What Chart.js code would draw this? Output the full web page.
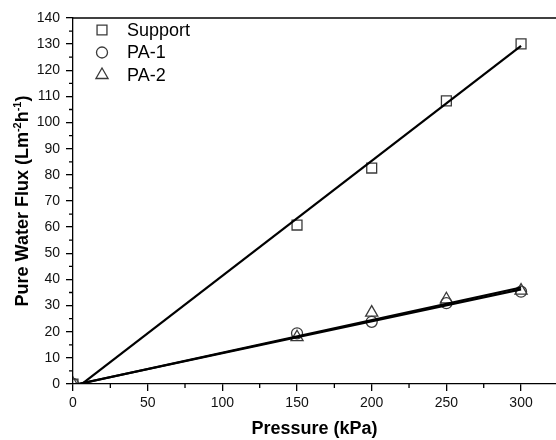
<!DOCTYPE html>
<html>
<head>
<meta charset="utf-8">
<script src="https://cdn.jsdelivr.net/npm/chart.js@4/dist/chart.umd.min.js"></script>
<style>
  html, body { margin: 0; padding: 0; background: #fff; overflow: hidden; }
  #wrap { width: 556px; height: 440px; }
</style>
</head>
<body>
<div id="wrap"><canvas id="fluxChart"></canvas></div>
<script>
// measured pure water flux vs. transmembrane pressure
const pressure = [0, 150, 200, 250, 300];
const supportFlux = [0, 60.8, 82.6, 108.3, 130.1];
const pa1Flux = [0, 19.4, 23.8, 30.9, 35.3];
const pa2Flux = [0, 17.9, 27.3, 32.4, 35.7];

// linear fit end points
const fitPressure = [0, 300];
const supportFit = [-2.6, 129.3];
const pa1Fit = [-0.4, 36.2];
const pa2Fit = [-0.5, 36.9];

const xTicks = [0, 50, 100, 150, 200, 250, 300];
const yTicks = [0, 10, 20, 30, 40, 50, 60, 70, 80, 90, 100, 110, 120, 130, 140];

const FONT = '"Liberation Sans", Arial, sans-serif';
const MARK = '#3a3a3a';

const toPoints = (xs, ys) => xs.map((x, i) => ({ x: x, y: ys[i] }));

function markers(label, ys, style, radius) {
    return {
        type: 'scatter',
        label: label,
        data: toPoints(pressure, ys),
        pointStyle: style,
        pointRadius: radius,
        pointHoverRadius: radius,
        pointBorderWidth: 1.3,
        borderColor: MARK,
        backgroundColor: 'rgba(0,0,0,0)',
        showLine: false,
        clip: 0,
        isMarker: true,
    };
}

function fitLine(ys) {
    return {
        type: 'line',
        data: toPoints(fitPressure, ys),
        borderColor: '#000',
        borderWidth: 2.2,
        pointRadius: 0,
        showLine: true,
        fill: false,
        clip: 0,
    };
}

// hollow marker shapes for the legend
function drawMarker(ctx, style, r, x, y) {
    ctx.beginPath();
    if (style === 'rect') {
        const s = r * Math.SQRT1_2;
        ctx.rect(x - s, y - s, 2 * s, 2 * s);
    } else if (style === 'circle') {
        ctx.arc(x, y, r, 0, Math.PI * 2);
    } else {
        ctx.moveTo(x, y - r);
        ctx.lineTo(x + r * Math.sin(Math.PI * 2 / 3), y + r / 2);
        ctx.lineTo(x - r * Math.sin(Math.PI * 2 / 3), y + r / 2);
        ctx.closePath();
    }
    ctx.stroke();
}

const framePlugin = {
    id: 'frame',
    afterDraw(chart) {
        const ctx = chart.ctx;
        const area = chart.chartArea;
        const xs = chart.scales.x;
        const ys = chart.scales.y;
        ctx.save();
        ctx.strokeStyle = '#000';
        ctx.lineWidth = 1.3;

        // top edge of the box
        ctx.beginPath();
        ctx.moveTo(area.left, area.top);
        ctx.lineTo(area.right, area.top);
        ctx.stroke();

        // minor ticks
        ctx.beginPath();
        for (let v = 25; v < 325; v += 50) {
            const px = xs.getPixelForValue(v);
            ctx.moveTo(px, area.bottom);
            ctx.lineTo(px, area.bottom + 4);
        }
        for (let v = 5; v < 140; v += 10) {
            const py = ys.getPixelForValue(v);
            ctx.moveTo(area.left, py);
            ctx.lineTo(area.left - 4, py);
        }
        ctx.stroke();

        // legend in the upper left corner
        ctx.font = '18px ' + FONT;
        ctx.textBaseline = 'middle';
        ctx.fillStyle = '#000';
        let rowY = area.top + 12;
        chart.data.datasets.filter(d => d.isMarker).forEach(d => {
            ctx.strokeStyle = MARK;
            ctx.lineWidth = 1.3;
            drawMarker(ctx, d.pointStyle, d.pointRadius, 102, rowY);
            ctx.fillText(d.label, 127, rowY + 1);
            rowY += 22.5;
        });

        // y axis title with superscripts
        ctx.translate(22, (area.top + area.bottom) / 2);
        ctx.rotate(-Math.PI / 2);
        const parts = [
            ['Pure Water Flux (Lm', 18, 0],
            ['-2', 11, -7],
            ['h', 18, 0],
            ['-1', 11, -7],
            [')', 18, 0],
        ];
        let total = 0;
        parts.forEach(p => {
            ctx.font = 'bold ' + p[1] + 'px ' + FONT;
            total += ctx.measureText(p[0]).width;
        });
        let cx = -total / 2;
        ctx.textBaseline = 'alphabetic';
        parts.forEach(p => {
            ctx.font = 'bold ' + p[1] + 'px ' + FONT;
            ctx.fillText(p[0], cx, 6 + p[2]);
            cx += ctx.measureText(p[0]).width;
        });
        ctx.restore();
    }
};

const axisFont = { family: FONT, size: 14 };

new Chart(document.getElementById('fluxChart'), {
    type: 'scatter',
    data: {
        datasets: [
            fitLine(supportFit),
            fitLine(pa1Fit),
            fitLine(pa2Fit),
            markers('Support', supportFlux, 'rect', 7),
            markers('PA-1', pa1Flux, 'circle', 5.5),
            markers('PA-2', pa2Flux, 'triangle', 7),
        ],
    },
    options: {
        responsive: true,
        maintainAspectRatio: false,
        animation: false,
        events: [],
        layout: { autoPadding: false, padding: { top: 18, right: 0, left: 0, bottom: 0 } },
        plugins: {
            legend: { display: false },
            tooltip: { enabled: false },
        },
        scales: {
            x: {
                type: 'linear',
                min: 0,
                max: 323.4,
                afterBuildTicks: s => { s.ticks = xTicks.map(v => ({ value: v })); },
                afterFit: s => {
                    s.height = 56;
                    s.paddingLeft = 0;
                    s.paddingRight = 0;
                },
                ticks: { font: axisFont, color: '#111', padding: 4, maxRotation: 0 },
                grid: { drawOnChartArea: false, tickLength: 7, tickColor: '#000', lineWidth: 1.3 },
                border: { color: '#000', width: 1.3 },
                title: {
                    display: true,
                    text: 'Pressure (kPa)',
                    font: { family: FONT, size: 18, weight: 'bold' },
                    color: '#000',
                    padding: { top: 6, bottom: 0 },
                },
            },
            y: {
                type: 'linear',
                min: 0,
                max: 140,
                afterBuildTicks: s => { s.ticks = yTicks.map(v => ({ value: v })); },
                afterFit: s => {
                    s.width = 73;
                    s.paddingTop = 0;
                    s.paddingBottom = 0;
                },
                ticks: { font: axisFont, color: '#111', padding: 6 },
                grid: { drawOnChartArea: false, tickLength: 7, tickColor: '#000', lineWidth: 1.3 },
                border: { color: '#000', width: 1.3 },
            },
        },
    },
    plugins: [framePlugin],
});
</script>
</body>
</html>
